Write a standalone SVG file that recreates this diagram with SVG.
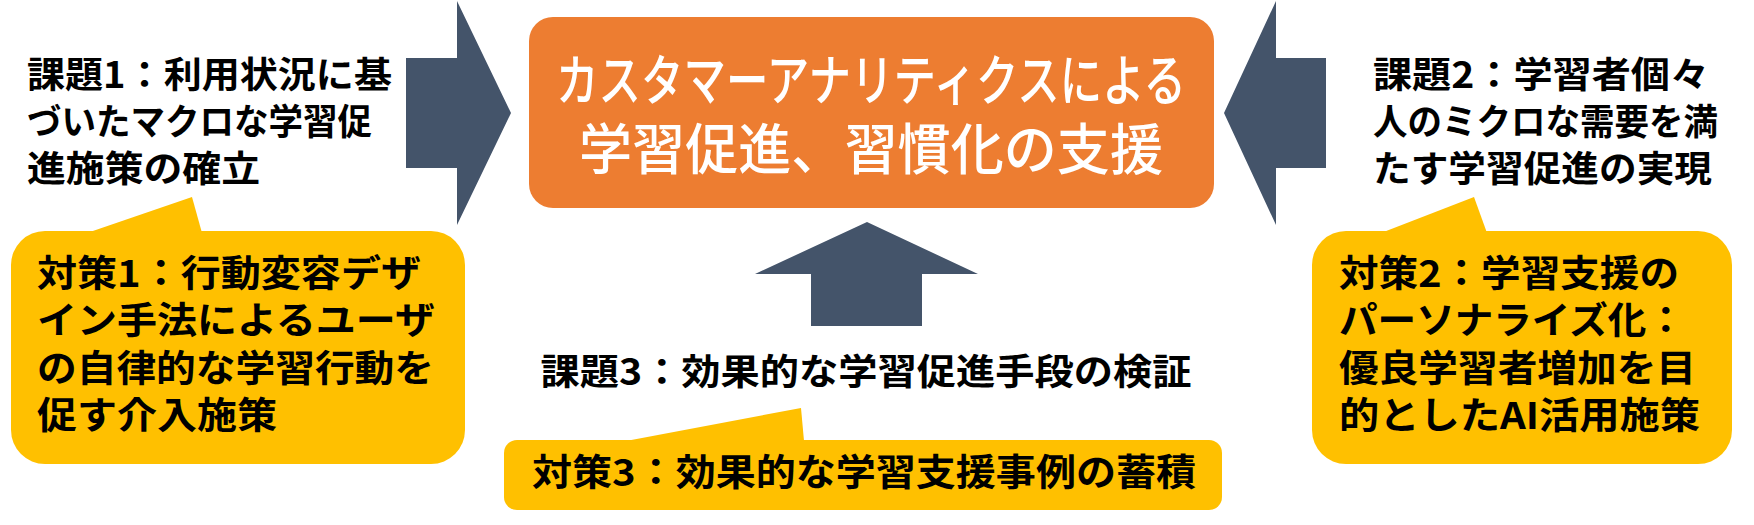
<svg xmlns="http://www.w3.org/2000/svg" width="1754" height="525" viewBox="0 0 1754 525">
<style>
text{font-family:"Noto Sans CJK JP","Noto Sans CJK SC",sans-serif;font-weight:700;fill:#000}
.issue{font-size:36px}
.measure{font-size:37px}
.title{font-size:55px;fill:#fff;font-weight:500}
.arrow{fill:#44546A}
.callout{fill:#FFC000}
</style>
<rect width="1754" height="525" fill="#fff"/>
<g id="connectors">
<polygon class="arrow" points="406,58 457,58 457,1 511,113 457,225 457,168 406,168"/>
<polygon class="arrow" points="1326,58 1276,58 1276,1 1224,113 1276,225 1276,168 1326,168"/>
<polygon class="arrow" points="867,222 978,274 922,274 922,326 811,326 811,274 755,274"/>
</g>
<g id="goal">
<rect x="529" y="17" width="685" height="191" rx="24" fill="#ED7D31"/>
<text class="title" text-anchor="middle"><tspan x="871" y="100" textLength="630" lengthAdjust="spacingAndGlyphs">カスタマーアナリティクスによる</tspan><tspan x="871" y="169" textLength="584" lengthAdjust="spacingAndGlyphs">学習促進、習慣化の支援</tspan></text>
</g>
<g id="issue1">
<text class="issue"><tspan x="27" y="88" textLength="365" lengthAdjust="spacingAndGlyphs">課題1：利用状況に基</tspan><tspan x="27" y="135" textLength="345" lengthAdjust="spacingAndGlyphs">づいたマクロな学習促</tspan><tspan x="27" y="182" textLength="233" lengthAdjust="spacingAndGlyphs">進施策の確立</tspan></text>
</g>
<g id="issue2">
<text class="issue"><tspan x="1373" y="88" textLength="336" lengthAdjust="spacingAndGlyphs">課題2：学習者個々</tspan><tspan x="1373" y="135" textLength="345" lengthAdjust="spacingAndGlyphs">人のミクロな需要を満</tspan><tspan x="1373" y="182" textLength="339" lengthAdjust="spacingAndGlyphs">たす学習促進の実現</tspan></text>
</g>
<g id="issue3">
<text class="issue" x="866" y="385" text-anchor="middle" textLength="651" lengthAdjust="spacingAndGlyphs">課題3：効果的な学習促進手段の検証</text>
</g>
<g id="measure1">
<polygon class="callout" points="87,233 192,197 202,233"/>
<rect class="callout" x="11" y="231" width="454" height="233" rx="34"/>
<text class="measure"><tspan x="37" y="287" textLength="384" lengthAdjust="spacingAndGlyphs">対策1：行動変容デザ</tspan><tspan x="37" y="334" textLength="398" lengthAdjust="spacingAndGlyphs">イン手法によるユーザ</tspan><tspan x="37" y="382" textLength="397" lengthAdjust="spacingAndGlyphs">の自律的な学習行動を</tspan><tspan x="37" y="429" textLength="240" lengthAdjust="spacingAndGlyphs">促す介入施策</tspan></text>
</g>
<g id="measure2">
<polygon class="callout" points="1381,233 1474,197 1487,233"/>
<rect class="callout" x="1312" y="231" width="420" height="233" rx="34"/>
<text class="measure"><tspan x="1339" y="287" textLength="340" lengthAdjust="spacingAndGlyphs">対策2：学習支援の</tspan><tspan x="1339" y="334" textLength="346" lengthAdjust="spacingAndGlyphs">パーソナライズ化：</tspan><tspan x="1339" y="382" textLength="357" lengthAdjust="spacingAndGlyphs">優良学習者増加を目</tspan><tspan x="1339" y="429" textLength="361" lengthAdjust="spacingAndGlyphs">的としたAI活用施策</tspan></text>
</g>
<g id="measure3">
<polygon class="callout" points="626,441 801,408 804,441"/>
<rect class="callout" x="504" y="440" width="718" height="70" rx="13"/>
<text class="measure" x="864" y="486" text-anchor="middle" textLength="664" lengthAdjust="spacingAndGlyphs">対策3：効果的な学習支援事例の蓄積</text>
</g>
</svg>
